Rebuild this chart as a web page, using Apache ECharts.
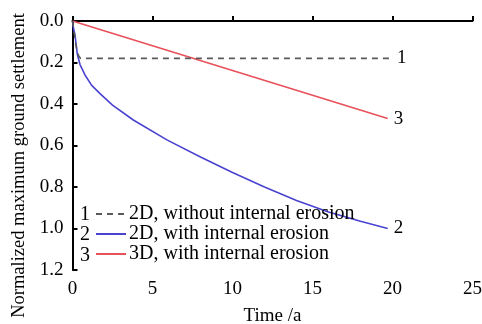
<!DOCTYPE html>
<html>
<head>
<meta charset="utf-8">
<script src="https://cdn.jsdelivr.net/npm/echarts@6/dist/echarts.min.js"></script>
<style>html,body{margin:0;padding:0;background:#fff;}#c{width:482px;height:324px;}</style>
</head>
<body>
<div id="c"></div>
<script>
const seriesNames = ['2D, without internal erosion', '2D, with internal erosion', '3D, with internal erosion'];
const endNumbers = ['1', '2', '3'];
const xTicks = [0, 5, 10, 15, 20, 25];
const yTicks = [0.0, 0.2, 0.4, 0.6, 0.8, 1.0, 1.2];
const noErosion2D = [[0,0],[0.1,0.05],[0.2,0.11],[0.3,0.15],[0.4,0.17],[0.5,0.18],[19.9,0.18]];
const erosion2D = [[0,0],[0.05,0.03],[0.16,0.07],[0.3,0.16],[0.47,0.21],[0.78,0.26],[1.2,0.31],[1.72,0.35],[2.5,0.405],[3.8,0.477],[5.9,0.573],[8,0.655],[10,0.73],[12,0.80],[14,0.865],[16,0.92],[18,0.965],[19.7,1.0]];
const erosion3D = [[0,0],[19.7,0.47]];

const font = '"Liberation Serif","Times New Roman",serif';
const colors = ['#5a5a5a', '#4a43d0', '#e8505a'];
const datasets = [noErosion2D, erosion2D, erosion3D];

const legendTop = 199;
const chart = echarts.init(document.getElementById('c'), null, {renderer: 'canvas'});
chart.setOption({
  animation: false,
  backgroundColor: '#fff',
  grid: {left: 72.5, right: 9.5, top: 21, bottom: 54, containLabel: false, outerBoundsMode: 'none'},
  xAxis: {
    type: 'value', min: xTicks[0], max: xTicks[xTicks.length-1], interval: 5,
    name: 'Time /a', nameLocation: 'middle', nameGap: 37,
    nameTextStyle: {fontFamily: font, fontSize: 19, color: '#000'},
    axisLine: {show: true, lineStyle: {color: '#000', width: 2}},
    axisTick: {show: true, inside: true, length: 5, lineStyle: {color: '#000', width: 2}},
    axisLabel: {fontFamily: font, fontSize: 19, color: '#000', margin: 10},
    splitLine: {show: false}
  },
  yAxis: {
    type: 'value', inverse: true, min: yTicks[0], max: yTicks[yTicks.length-1], interval: 0.2,
    name: 'Normalized maximum ground settlement', nameLocation: 'middle', nameGap: 40,
    nameTextStyle: {fontFamily: font, fontSize: 18.5, color: '#000', padding: [0, 40, 0, 0]},
    axisLine: {show: true, lineStyle: {color: '#000', width: 2}},
    axisTick: {show: true, inside: true, length: 5, lineStyle: {color: '#000', width: 2}},
    axisLabel: {fontFamily: font, fontSize: 19, color: '#000', margin: 9, formatter: v => v.toFixed(1)},
    splitLine: {show: false}
  },
  legend: {
    orient: 'vertical', left: 90, top: legendTop, itemWidth: 30, itemHeight: 12, itemGap: 0,
    textStyle: {fontFamily: font, fontSize: 20, color: '#000', padding: [0,0,0,-2]},
    itemStyle: {opacity: 0},
    data: seriesNames,
    selectedMode: false
  },
  graphic: endNumbers.map((t, i) => ({
    type: 'text', x: 90, y: legendTop + 15.5 + i * 20.5,
    style: {text: t, font: '20px ' + font, fill: '#000', align: 'right', verticalAlign: 'middle'}
  })),
  series: datasets.map((d, i) => ({
    name: seriesNames[i], type: 'line', data: d, symbol: 'none', smooth: false,
    lineStyle: {color: colors[i], width: 1.6, type: i === 0 ? [6, 5] : 'solid'},
    itemStyle: {color: colors[i]},
    endLabel: {show: true, formatter: endNumbers[i], fontFamily: font, fontSize: 19, color: '#000', distance: 6},
    z: 3 - i
  }))
});
</script>
</body>
</html>
